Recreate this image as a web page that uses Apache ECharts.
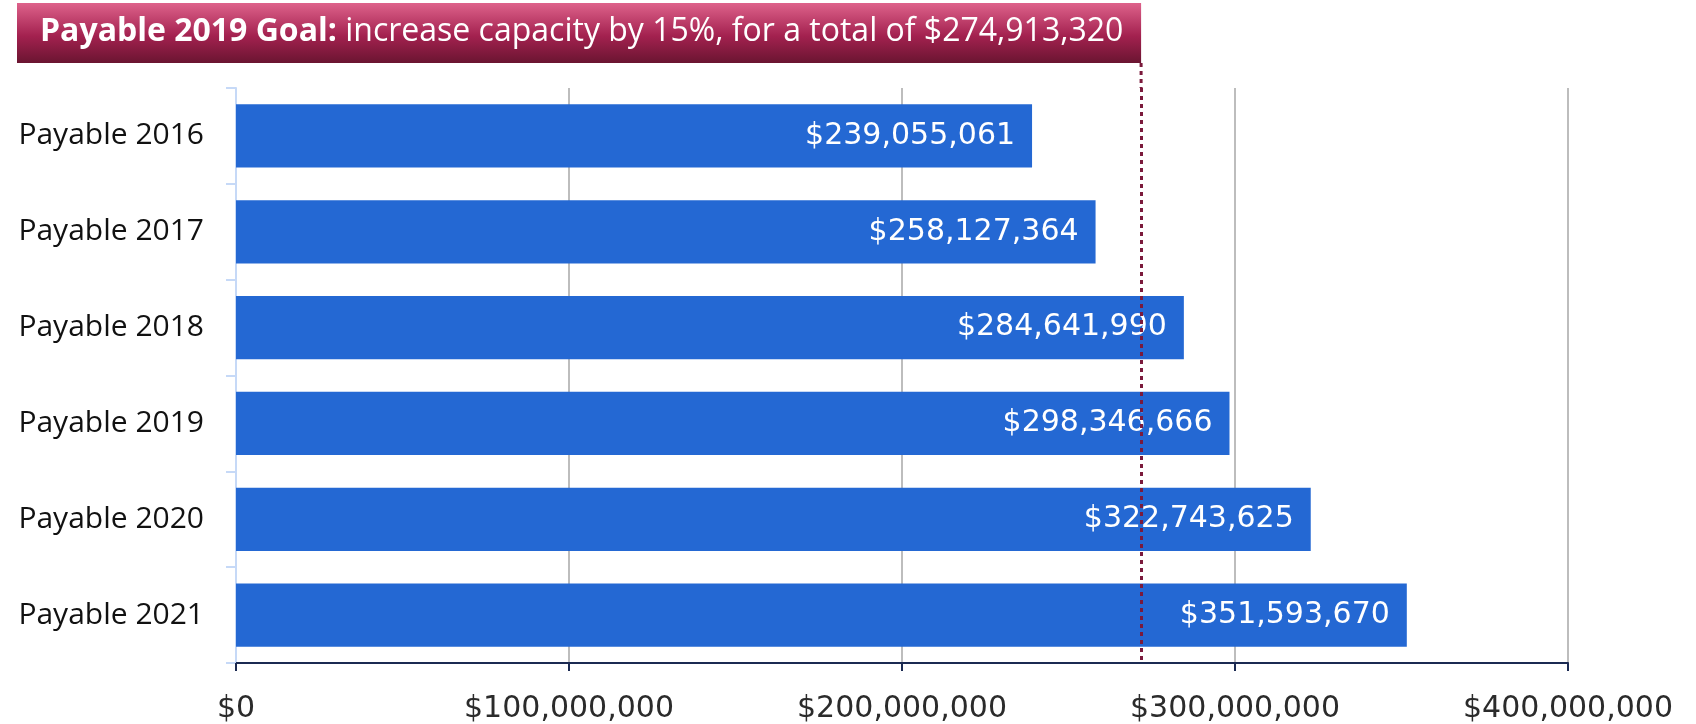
<!DOCTYPE html>
<html>
<head>
<meta charset="utf-8">
<title>Payable capacity</title>
<script src="https://cdn.jsdelivr.net/npm/echarts@6/dist/echarts.min.js"></script>
<style>
  html, body { margin: 0; padding: 0; background: #ffffff; }
  #chart { width: 1696px; height: 724px; }
</style>
</head>
<body>
<div id="chart"></div>
<script>
// categories, top to bottom
var years = ['Payable 2016', 'Payable 2017', 'Payable 2018', 'Payable 2019', 'Payable 2020', 'Payable 2021'];
var capacity = [239055061, 258127364, 284641990, 298346666, 322743625, 351593670];
var xTicks = [0, 100000000, 200000000, 300000000, 400000000];
// where the dotted goal line sits in the picture
var goalLine = 271800000;
var bannerBold = 'Payable 2019 Goal:';
var bannerText = ' increase capacity by 15%, for a total of $274,913,320';

var FONT = '"Open Sans", "DejaVu Sans", sans-serif';
var WIDE = '"DejaVu Sans", sans-serif';

function money(v){
    return '$' + Math.round(v).toString().replace(/\B(?=(\d{3})+(?!\d))/g, ',');
}

var chart = echarts.init(document.getElementById('chart'));

var option = {
    animation: false,
    grid: { left: 236, right: 128, top: 88, bottom: 60 },
    xAxis: {
        type: 'value',
        min: xTicks[0],
        max: xTicks[xTicks.length - 1],
        interval: xTicks[1] - xTicks[0],
        axisLine: { show: true, lineStyle: { color: '#1b2a52', width: 2 } },
        axisTick: { show: true, length: 8, lineStyle: { color: '#1b2a52', width: 2 } },
        axisLabel: {
            formatter: money, margin: 31, color: '#2b2b2b',
            fontSize: 30, fontFamily: WIDE
        },
        splitLine: { show: true, lineStyle: { color: '#bdbdbd', width: 2 } }
    },
    yAxis: {
        type: 'category',
        inverse: true,
        data: years,
        axisLine: { show: true, lineStyle: { color: '#c6d9f7', width: 2 } },
        axisTick: { show: true, length: 10, lineStyle: { color: '#c6d9f7', width: 2 } },
        axisLabel: { margin: 32, color: '#111111', fontSize: 30, fontFamily: FONT }
    },
    series: [{
        type: 'bar',
        data: capacity,
        barCategoryGap: '34%',
        itemStyle: { color: '#2468d3' },
        label: {
            show: true,
            position: 'insideRight',
            distance: 17,
            color: '#ffffff',
            fontSize: 30,
            fontFamily: WIDE,
            formatter: function(p){ return money(p.value); }
        },
        markLine: {
            silent: true,
            symbol: 'none',
            label: { show: false },
            lineStyle: { color: '#7b1a3c', width: 3, type: [4, 4] },
            data: [{ xAxis: goalLine }]
        }
    }]
};
chart.setOption(option);

// banner + top stub of the dotted goal line
var gx = chart.convertToPixel({ xAxisIndex: 0 }, goalLine);
chart.setOption({
    graphic: [
        {
            type: 'rect',
            shape: { x: 17, y: 3, width: gx - 17, height: 60 },
            style: {
                fill: new echarts.graphic.LinearGradient(0, 0, 0, 1, [
                    { offset: 0, color: '#de628b' },
                    { offset: 0.55, color: '#a3214f' },
                    { offset: 1, color: '#6a1531' }
                ])
            },
            z: 10
        },
        {
            type: 'text',
            x: 40, y: 32,
            style: {
                text: '{b|' + bannerBold + '}{r|' + bannerText + '}',
                verticalAlign: 'middle',
                rich: {
                    b: { fontWeight: 'bold', fontSize: 32, fill: '#ffffff', fontFamily: FONT },
                    r: { fontSize: 32, fill: '#ffffff', fontFamily: FONT }
                }
            },
            z: 11
        },
        {
            type: 'line',
            shape: { x1: gx, y1: 63, x2: gx, y2: 88 },
            style: { stroke: '#7b1a3c', lineWidth: 3, lineDash: [4, 4] },
            z: 10
        }
    ]
});
</script>
</body>
</html>
